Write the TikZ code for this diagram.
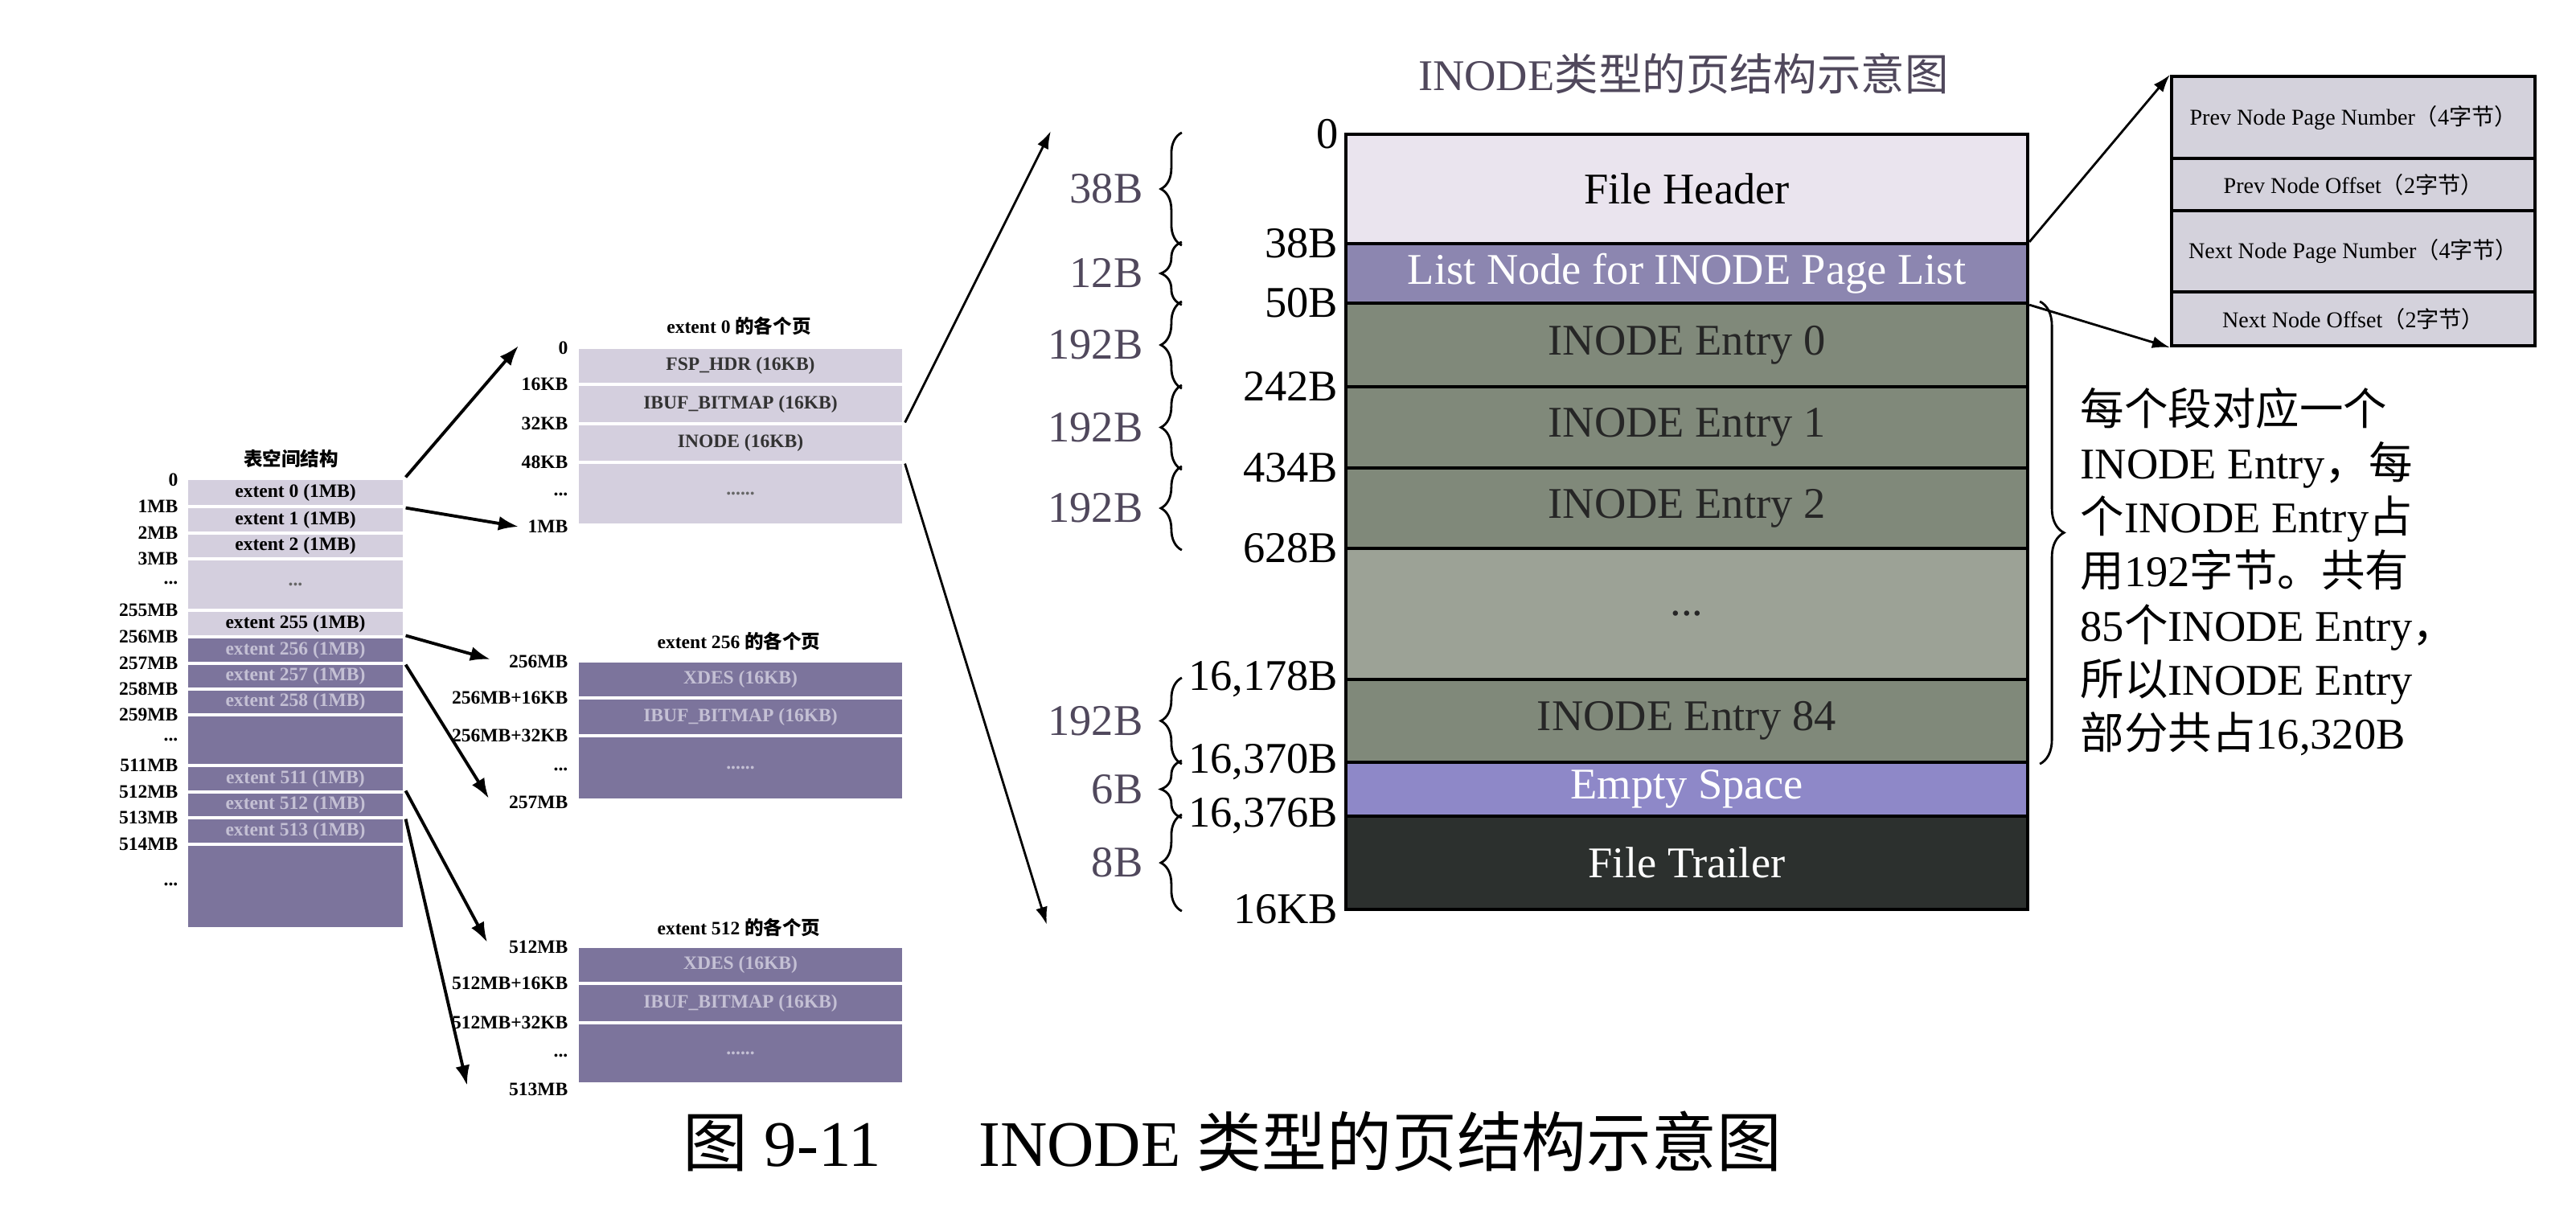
\documentclass[tikz,border=0pt]{standalone}
\usepackage{fontspec}
\setmainfont{Liberation Serif}
\newfontfamily\cjk{Noto Sans CJK SC}
\usepackage{tikz}
\usetikzlibrary{arrows.meta, positioning, decorations.pathreplacing}
\definecolor{spacelight}{RGB}{212, 207, 222}
\definecolor{spacedark}{RGB}{124, 116, 156}
\definecolor{fadetext}{RGB}{196, 192, 212}
\definecolor{headercolor}{RGB}{234, 228, 238}
\definecolor{listcolor}{RGB}{140, 134, 176}
\definecolor{entrycolor}{RGB}{128, 137, 122}
\definecolor{entrylight}{RGB}{156, 162, 150}
\definecolor{emptycolor}{RGB}{142, 136, 200}
\definecolor{trailercolor}{RGB}{44, 48, 46}
\definecolor{detailcolor}{RGB}{212, 210, 220}
\definecolor{sizecolor}{RGB}{80, 72, 92}

\begin{document}
\begin{tikzpicture}[
    tsrow/.style={draw=white, line width=0.9pt, minimum width=2.71cm, inner sep=0, font=\fontsize{6.7}{8}\selectfont\bfseries},
    tslabel/.style={anchor=east, inner sep=0, font=\fontsize{6.7}{8}\selectfont\bfseries},
    extpage/.style={draw=white, line width=0.9pt, minimum width=4.06cm, inner sep=0, font=\fontsize{6.7}{8}\selectfont\bfseries},
    smalltitle/.style={inner sep=0, font=\fontsize{6.7}{8}\selectfont\bfseries},
    inoderow/.style={draw, line width=1.2pt, minimum width=8.48cm, inner sep=0, font=\fontsize{15.5}{19}\selectfont},
    offset/.style={anchor=east, inner sep=0, font=\fontsize{15.5}{19}\selectfont},
    sizebrace/.style={decorate, decoration={brace, amplitude=0.26cm}, line width=0.8pt},
    sizelabel/.style={inner sep=0, text=sizecolor, font=\fontsize{15.5}{19}\selectfont},
    detail/.style={draw, line width=1.2pt, fill=detailcolor, minimum width=4.52cm, inner sep=0, font=\fontsize{8}{10}\selectfont},
    arr/.style={-{Latex[length=2.5mm, width=1.8mm]}, line width=1.1pt},
    thinarr/.style={-{Latex[length=2.2mm, width=1.5mm]}, line width=0.8pt},
]
    \useasboundingbox (0,0) rectangle (32.04,-15.20);

    % Tablespace
    \node[smalltitle] (tstitle) at (3.62, -5.70) {{\cjk 表空间结构}};
    \node[tsrow, fill=spacelight, minimum height=0.35cm] (ts0) at (3.675, -6.125) {extent 0 (1MB)};
    \node[tsrow, fill=spacelight, minimum height=0.33cm] (ts1) at (3.675, -6.465) {extent 1 (1MB)};
    \node[tsrow, fill=spacelight, minimum height=0.32cm] (ts2) at (3.675, -6.79) {extent 2 (1MB)};
    \node[tsrow, fill=spacelight, text=black!60, minimum height=0.64cm] (tsdots) at (3.675, -7.27) {...};
    \node[tsrow, fill=spacelight, minimum height=0.33cm] (ts255) at (3.675, -7.755) {extent 255 (1MB)};
    \node[tsrow, fill=spacedark, text=fadetext, minimum height=0.33cm] (ts256) at (3.675, -8.085) {extent 256 (1MB)};
    \node[tsrow, fill=spacedark, text=fadetext, minimum height=0.32cm] (ts257) at (3.675, -8.41) {extent 257 (1MB)};
    \node[tsrow, fill=spacedark, text=fadetext, minimum height=0.32cm] (ts258) at (3.675, -8.73) {extent 258 (1MB)};
    \node[tsrow, fill=spacedark, minimum height=0.63cm] (tsgap) at (3.675, -9.205) {};
    \node[tsrow, fill=spacedark, text=fadetext, minimum height=0.33cm] (ts511) at (3.675, -9.685) {extent 511 (1MB)};
    \node[tsrow, fill=spacedark, text=fadetext, minimum height=0.32cm] (ts512) at (3.675, -10.01) {extent 512 (1MB)};
    \node[tsrow, fill=spacedark, text=fadetext, minimum height=0.33cm] (ts513) at (3.675, -10.335) {extent 513 (1MB)};
    \node[tsrow, fill=spacedark, minimum height=1.05cm] (tsrest) at (3.675, -11.025) {};

    % Tablespace offsets
    \node[tslabel] (tl0) at (2.22, -5.97) {0};
    \node[tslabel] (tl1) at (2.22, -6.30) {1MB};
    \node[tslabel] (tl2) at (2.22, -6.63) {2MB};
    \node[tslabel] (tl3) at (2.22, -6.95) {3MB};
    \node[tslabel] (tld1) at (2.22, -7.25) {...};
    \node[tslabel] (tl255) at (2.22, -7.59) {255MB};
    \node[tslabel] (tl256) at (2.22, -7.92) {256MB};
    \node[tslabel] (tl257) at (2.22, -8.25) {257MB};
    \node[tslabel] (tl258) at (2.22, -8.57) {258MB};
    \node[tslabel] (tl259) at (2.22, -8.89) {259MB};
    \node[tslabel] (tld2) at (2.22, -9.20) {...};
    \node[tslabel] (tl511) at (2.22, -9.52) {511MB};
    \node[tslabel] (tl512) at (2.22, -9.85) {512MB};
    \node[tslabel] (tl513) at (2.22, -10.17) {513MB};
    \node[tslabel] (tl514) at (2.22, -10.50) {514MB};
    \node[tslabel] (tld3) at (2.22, -11.00) {...};

    % Pages of extent 0
    \node[smalltitle] (tita) at (9.19, -4.05) {extent 0 {\cjk 的各个页}};
    \node[extpage, fill=spacelight, text=black!80, minimum height=0.46cm] (pa0) at (9.21, -4.55) {FSP\_HDR (16KB)};
    \node[extpage, fill=spacelight, text=black!80, minimum height=0.49cm] (pa1) at (9.21, -5.025) {IBUF\_BITMAP (16KB)};
    \node[extpage, fill=spacelight, text=black!80, minimum height=0.48cm] (pa2) at (9.21, -5.51) {INODE (16KB)};
    \node[extpage, fill=spacelight, text=black!60, minimum height=0.78cm] (pa3) at (9.21, -6.14) {......};
    \node[tslabel] (la0) at (7.07, -4.33) {0};
    \node[tslabel] (la1) at (7.07, -4.78) {16KB};
    \node[tslabel] (la2) at (7.07, -5.27) {32KB};
    \node[tslabel] (la3) at (7.07, -5.75) {48KB};
    \node[tslabel] (lad) at (7.07, -6.15) {...};
    \node[tslabel] (la4) at (7.07, -6.55) {1MB};

    % Pages of extent 256
    \node[smalltitle] (titb) at (9.19, -7.97) {extent 256 {\cjk 的各个页}};
    \node[extpage, fill=spacedark, text=fadetext, minimum height=0.46cm] (pb0) at (9.21, -8.45) {XDES (16KB)};
    \node[extpage, fill=spacedark, text=fadetext, minimum height=0.47cm] (pb1) at (9.21, -8.915) {IBUF\_BITMAP (16KB)};
    \node[extpage, fill=spacedark, text=fadetext, minimum height=0.80cm] (pb2) at (9.21, -9.55) {......};
    \node[tslabel] (lb0) at (7.07, -8.23) {256MB};
    \node[tslabel] (lb1) at (7.07, -8.68) {256MB+16KB};
    \node[tslabel] (lb2) at (7.07, -9.15) {256MB+32KB};
    \node[tslabel] (lbd) at (7.07, -9.57) {...};
    \node[tslabel] (lb3) at (7.07, -9.98) {257MB};

    % Pages of extent 512
    \node[smalltitle] (titc) at (9.19, -11.53) {extent 512 {\cjk 的各个页}};
    \node[extpage, fill=spacedark, text=fadetext, minimum height=0.46cm] (pc0) at (9.21, -12.00) {XDES (16KB)};
    \node[extpage, fill=spacedark, text=fadetext, minimum height=0.49cm] (pc1) at (9.21, -12.475) {IBUF\_BITMAP (16KB)};
    \node[extpage, fill=spacedark, text=fadetext, minimum height=0.76cm] (pc2) at (9.21, -13.10) {......};
    \node[tslabel] (lc0) at (7.07, -11.78) {512MB};
    \node[tslabel] (lc1) at (7.07, -12.23) {512MB+16KB};
    \node[tslabel] (lc2) at (7.07, -12.72) {512MB+32KB};
    \node[tslabel] (lcd) at (7.07, -13.13) {...};
    \node[tslabel] (lc3) at (7.07, -13.55) {513MB};

    % Arrows from the tablespace
    \coordinate (a0tip) at (6.45, -4.30);
    \coordinate (a1tip) at (6.45, -6.55);
    \coordinate (b0tip) at (6.10, -8.20);
    \coordinate (b1tip) at (6.08, -9.93);
    \coordinate (c0tip) at (6.06, -11.72);
    \coordinate (c1tip) at (5.81, -13.50);
    \draw[arr] (ts0.north east) -- (a0tip);
    \draw[arr] (ts0.south east) -- (a1tip);
    \draw[arr] (ts256.north east) -- (b0tip);
    \draw[arr] (ts256.south east) -- (b1tip);
    \draw[arr] (ts512.north east) -- (c0tip);
    \draw[arr] (ts512.south east) -- (c1tip);

    % INODE page
    \node[font=\fontsize{15.5}{19}\selectfont, text=sizecolor] (pgtitle) at (20.94, -0.92) {INODE{\cjk 类型的页结构示意图}};
    \node[inoderow, fill=headercolor, minimum height=1.36cm] (fhdr) at (20.98, -2.35) {File Header};
    \node[inoderow, fill=listcolor, text=white, minimum height=0.74cm] (lnode) at (20.98, -3.40) {List Node for INODE Page List};
    \node[inoderow, fill=entrycolor, text=black!85, minimum height=1.04cm] (ent0) at (20.98, -4.29) {INODE Entry 0};
    \node[inoderow, fill=entrycolor, text=black!85, minimum height=1.01cm] (ent1) at (20.98, -5.315) {INODE Entry 1};
    \node[inoderow, fill=entrycolor, text=black!85, minimum height=1.00cm] (ent2) at (20.98, -6.32) {INODE Entry 2};
    \node[inoderow, fill=entrylight, text=black!85, minimum height=1.63cm] (entdots) at (20.98, -7.635) {...};
    \node[inoderow, fill=entrycolor, text=black!85, minimum height=1.03cm] (ent84) at (20.98, -8.965) {INODE Entry 84};
    \node[inoderow, fill=emptycolor, text=white, minimum height=0.67cm] (empty) at (20.98, -9.815) {Empty Space};
    \node[inoderow, fill=trailercolor, text=white, minimum height=1.16cm] (ftrl) at (20.98, -10.73) {File Trailer};

    % Page offsets
    \node[offset] (o0) at (16.65, -1.67) {0};
    \node[offset] (o38) at (16.65, -3.03) {38B};
    \node[offset] (o50) at (16.65, -3.77) {50B};
    \node[offset] (o242) at (16.65, -4.81) {242B};
    \node[offset] (o434) at (16.65, -5.82) {434B};
    \node[offset] (o628) at (16.65, -6.82) {628B};
    \node[offset] (o16178) at (16.65, -8.45) {16,178B};
    \node[offset] (o16370) at (16.65, -9.48) {16,370B};
    \node[offset] (o16376) at (16.65, -10.15) {16,376B};
    \node[offset] (o16k) at (16.65, -11.31) {16KB};

    % Sizes
    \draw[sizebrace] ([xshift=-2.02cm]fhdr.south west) -- node[sizelabel, left=0.47cm] (s38) {38B} ([xshift=-2.02cm]fhdr.north west);
    \draw[sizebrace] ([xshift=-2.02cm]lnode.south west) -- node[sizelabel, left=0.47cm] (s12) {12B} ([xshift=-2.02cm]lnode.north west);
    \draw[sizebrace] ([xshift=-2.02cm]ent0.south west) -- node[sizelabel, left=0.47cm] (s192a) {192B} ([xshift=-2.02cm]ent0.north west);
    \draw[sizebrace] ([xshift=-2.02cm]ent1.south west) -- node[sizelabel, left=0.47cm] (s192b) {192B} ([xshift=-2.02cm]ent1.north west);
    \draw[sizebrace] ([xshift=-2.02cm]ent2.south west) -- node[sizelabel, left=0.47cm] (s192c) {192B} ([xshift=-2.02cm]ent2.north west);
    \draw[sizebrace] ([xshift=-2.02cm]ent84.south west) -- node[sizelabel, left=0.47cm] (s192d) {192B} ([xshift=-2.02cm]ent84.north west);
    \draw[sizebrace] ([xshift=-2.02cm]empty.south west) -- node[sizelabel, left=0.47cm] (s6) {6B} ([xshift=-2.02cm]empty.north west);
    \draw[sizebrace] ([xshift=-2.02cm]ftrl.south west) -- node[sizelabel, left=0.47cm] (s8) {8B} ([xshift=-2.02cm]ftrl.north west);

    % Arrows to the INODE page
    \coordinate (pgtop) at (13.07, -1.63);
    \coordinate (pgbot) at (13.02, -11.50);
    \draw[thinarr] (pa2.north east) -- (pgtop);
    \draw[thinarr] (pa2.south east) -- (pgbot);

    % List node detail
    \node[detail, minimum height=1.02cm] (dprev) at (29.27, -1.46) {Prev Node Page Number{\cjk （}4{\cjk 字节）}};
    \node[detail, minimum height=0.65cm] (dprevoff) at (29.27, -2.295) {Prev Node Offset{\cjk （}2{\cjk 字节）}};
    \node[detail, minimum height=1.01cm] (dnext) at (29.27, -3.125) {Next Node Page Number{\cjk （}4{\cjk 字节）}};
    \node[detail, minimum height=0.67cm] (dnextoff) at (29.27, -3.965) {Next Node Offset{\cjk （}2{\cjk 字节）}};
    \draw[thinarr] (lnode.north east) -- (dprev.north west);
    \draw[thinarr] (lnode.south east) -- (dnextoff.south west);

    % Entries note
    \draw[decorate, decoration={brace, amplitude=0.3cm}, line width=0.8pt] ([xshift=0.13cm]ent0.north east) -- ([xshift=0.13cm]ent84.south east);
    \node[anchor=west, align=left, inner sep=0, font=\fontsize{15.5}{19.1}\selectfont] (note) at (25.87, -7.11) {%
        {\cjk 每个段对应一个}\\
        INODE Entry{\cjk ，每}\\
        {\cjk 个}INODE Entry{\cjk 占}\\
        {\cjk 用}192{\cjk 字节。共有}\\
        85{\cjk 个}INODE Entry{\cjk ，}\\
        {\cjk 所以}INODE Entry\\
        {\cjk 部分共占}16,320B};

    % Caption
    \node[font=\fontsize{23}{27}\selectfont] (caption) at (15.33, -14.20) {{\cjk 图} 9-11\hspace{1.5em}INODE {\cjk 类型的页结构示意图}};
\end{tikzpicture}
\end{document}
